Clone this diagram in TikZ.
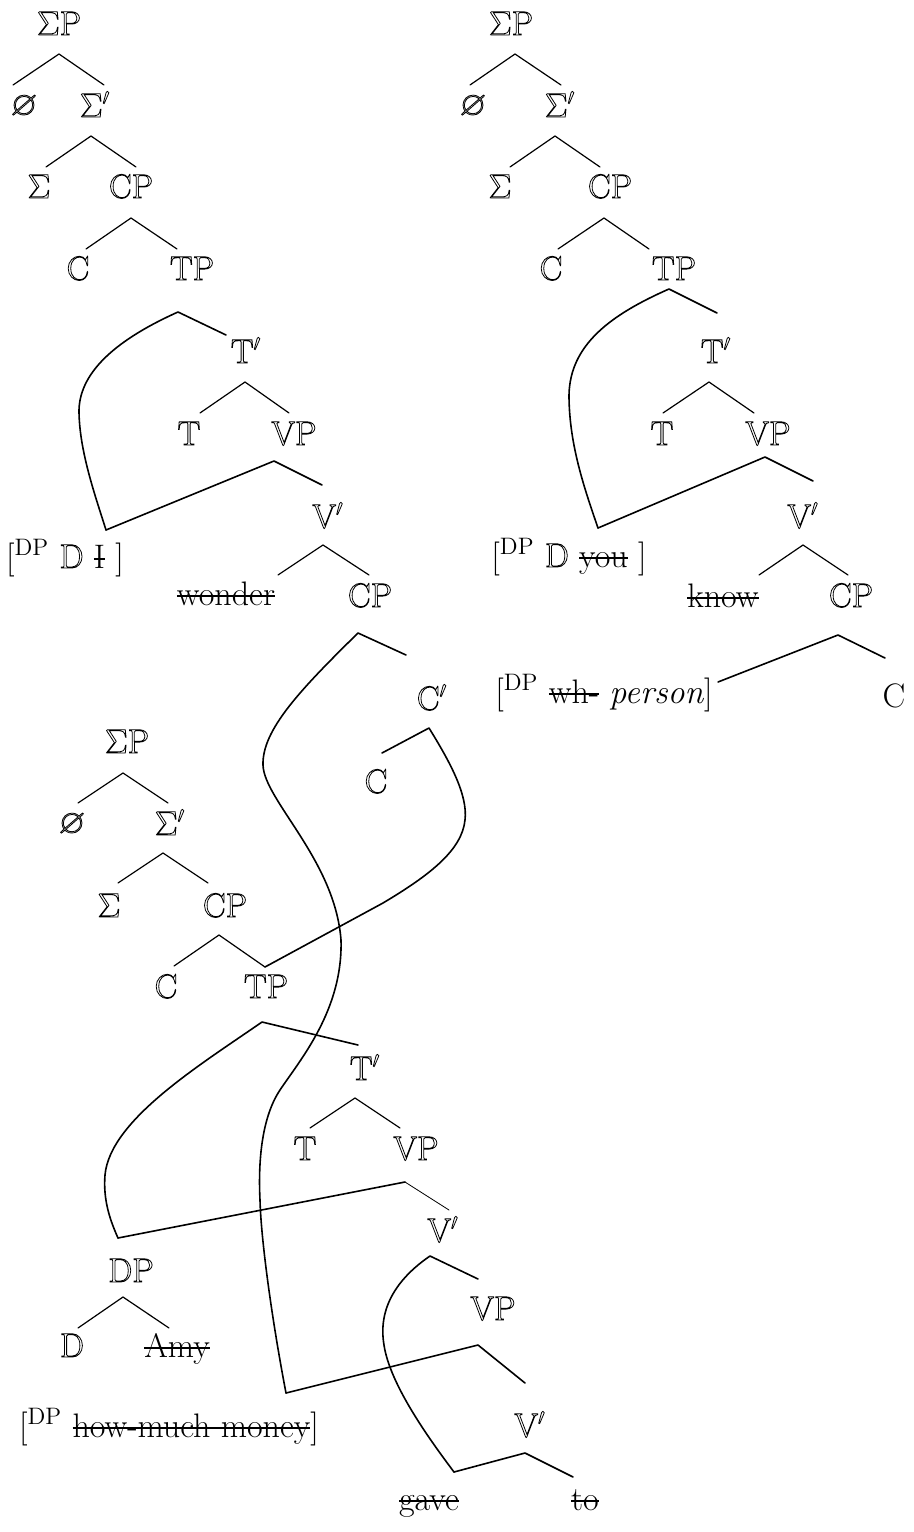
\RequirePackage{fix-cm}
\documentclass[tikz,border=0pt]{standalone}
\usepackage{amssymb}
\newsavebox\strkbox
\newcommand\strk[1]{\sbox\strkbox{#1}\rlap{\usebox\strkbox}\rule[0.24em]{\wd\strkbox}{0.9pt}}
\newcommand\olt[1]{\special{pdf:literal direct 1 Tr}#1\special{pdf:literal direct 0 Tr}}
\tikzset{
  lab/.style={anchor=base, inner sep=0pt, font=\fontsize{17}{20}\selectfont},
  br/.style={line width=0.6pt, line cap=round},
  mv/.style={line width=0.8pt, line cap=round, line join=round},
}
\begin{document}
\begin{tikzpicture}[x=0.5pt,y=-0.5pt]
\useasboundingbox (0,0) rectangle (914,1532);
% ---------------- tree 1 ----------------
\node[lab] (SP1) at (59,35) {\olt{$\Sigma$P}};
\node[lab] (O1) at (24,115) {\olt{$\varnothing$}};
\node[lab] (Sb1) at (95,117) {\olt{$\Sigma'$}};
\node[lab] (S1) at (39,198) {\olt{$\Sigma$}};
\node[lab] (CP1) at (131,198) {\olt{CP}};
\node[lab] (C1) at (78,280) {\olt{C}};
\node[lab] (TP1) at (192,280) {\olt{TP}};
\node[lab] (Tb1) at (246,363) {\olt{T$'$}};
\node[lab] (T1) at (189,445) {\olt{T}};
\node[lab] (VP1) at (294,445) {\olt{VP}};
\node[lab] (Vb1) at (328,528) {\olt{V$'$}};
\node[lab] (DP1) at (65,568) {[\textsuperscript{DP} \olt{D} \strk{I} ]};
\node[lab] (W1) at (226,605) {\strk{wonder}};
\node[lab] (CP1b) at (370,607) {\olt{CP}};
\coordinate (t1a1) at (59,54);  \coordinate (t1a1l) at (13,85);  \coordinate (t1a1r) at (104,85);
\coordinate (t1a2) at (91,136); \coordinate (t1a2l) at (46,167); \coordinate (t1a2r) at (136,167);
\coordinate (t1a3) at (131,218);\coordinate (t1a3l) at (86,249); \coordinate (t1a3r) at (177,249);
\coordinate (t1a4) at (178,312);\coordinate (t1a4r) at (226,335);\coordinate (t1s) at (106,530);
\coordinate (t1a5) at (245,382);\coordinate (t1a5l) at (200,413);\coordinate (t1a5r) at (289,413);
\coordinate (t1a6) at (274,461);\coordinate (t1a6r) at (322,485);
\coordinate (t1a7) at (323,545);\coordinate (t1a7l) at (278,575);\coordinate (t1a7r) at (369,575);
\draw[br] (t1a1l) -- (t1a1) -- (t1a1r);
\draw[br] (t1a2l) -- (t1a2) -- (t1a2r);
\draw[br] (t1a3l) -- (t1a3) -- (t1a3r);
\draw[mv] (t1a4r) -- (t1a4) .. controls (120,338) and (80,370) .. (79,410) .. controls (79,450) and (95,495) .. (t1s);
\draw[br] (t1a5l) -- (t1a5) -- (t1a5r);
\draw[mv] (t1s) -- (t1a6) -- (t1a6r);
\draw[br] (t1a7l) -- (t1a7) -- (t1a7r);
% ---------------- tree 2 ----------------
\node[lab] (SP2) at (511,35) {\olt{$\Sigma$P}};
\node[lab] (O2) at (473,115) {\olt{$\varnothing$}};
\node[lab] (Sb2) at (560,117) {\olt{$\Sigma'$}};
\node[lab] (S2) at (500,198) {\olt{$\Sigma$}};
\node[lab] (CP2) at (610,198) {\olt{CP}};
\node[lab] (C2) at (551,280) {\olt{C}};
\node[lab] (TP2) at (674,280) {\olt{TP}};
\node[lab] (Tb2) at (716,363) {\olt{T$'$}};
\node[lab] (T2) at (662,445) {\olt{T}};
\node[lab] (VP2) at (768,445) {\olt{VP}};
\node[lab] (Vb2) at (803,528) {\olt{V$'$}};
\node[lab] (DP2) at (569,567) {[\textsuperscript{DP} \olt{D} \strk{you} ]};
\node[lab] (K2) at (723,607) {\strk{know}};
\node[lab] (CP2b) at (851,607) {\olt{CP}};
\node[lab] (WH2) at (604,703) {[\textsuperscript{DP} \strk{wh-} \textit{person}]};
\node[lab] (Cx2) at (894,707) {C};
\coordinate (t2a1) at (515,54); \coordinate (t2a1l) at (470,85); \coordinate (t2a1r) at (561,85);
\coordinate (t2a2) at (555,136);\coordinate (t2a2l) at (510,167);\coordinate (t2a2r) at (600,167);
\coordinate (t2a3) at (604,218);\coordinate (t2a3l) at (558,249);\coordinate (t2a3r) at (649,249);
\coordinate (t2a4) at (669,289);\coordinate (t2a4r) at (717,313);\coordinate (t2s) at (598,528);
\coordinate (t2a5) at (709,382);\coordinate (t2a5l) at (663,413);\coordinate (t2a5r) at (754,413);
\coordinate (t2a6) at (765,457);\coordinate (t2a6r) at (813,481);
\coordinate (t2a7) at (803,545);\coordinate (t2a7l) at (759,575);\coordinate (t2a7r) at (848,575);
\coordinate (t2a8) at (838,635);\coordinate (t2a8l) at (718,682);\coordinate (t2a8r) at (885,658);
\draw[br] (t2a1l) -- (t2a1) -- (t2a1r);
\draw[br] (t2a2l) -- (t2a2) -- (t2a2r);
\draw[br] (t2a3l) -- (t2a3) -- (t2a3r);
\draw[mv] (t2a4r) -- (t2a4) .. controls (610,315) and (570,345) .. (569,395) .. controls (569,445) and (585,490) .. (t2s);
\draw[br] (t2a5l) -- (t2a5) -- (t2a5r);
\draw[mv] (t2s) -- (t2a6) -- (t2a6r);
\draw[br] (t2a7l) -- (t2a7) -- (t2a7r);
\draw[mv] (t2a8l) -- (t2a8) -- (t2a8r);
% ---------------- tree 3 ----------------
\node[lab] (Cb3) at (432,710) {\olt{C$'$}};
\node[lab] (Ch3) at (376,793) {\olt{C}};
\node[lab] (SP3) at (127,753) {\olt{$\Sigma$P}};
\node[lab] (O3) at (72,833) {\olt{$\varnothing$}};
\node[lab] (Sb3) at (170,835) {\olt{$\Sigma'$}};
\node[lab] (S3) at (109,917) {\olt{$\Sigma$}};
\node[lab] (CP3) at (225,917) {\olt{CP}};
\node[lab] (C3) at (166,998) {\olt{C}};
\node[lab] (TP3) at (266,998) {\olt{TP}};
\node[lab] (Tb3) at (365,1080) {\olt{T$'$}};
\node[lab] (T3) at (305,1160) {\olt{T}};
\node[lab] (VP3) at (416,1160) {\olt{VP}};
\node[lab] (Vb3) at (443,1242) {\olt{V$'$}};
\node[lab] (DP3) at (131,1282) {\olt{DP}};
\node[lab] (D3) at (72,1357) {\olt{D}};
\node[lab] (Amy) at (177,1357) {\strk{Amy}};
\node[lab] (VP3b) at (493,1320) {\olt{VP}};
\node[lab] (Vb3b) at (530,1437) {\olt{V$'$}};
\node[lab] (HM) at (169,1437) {[\textsuperscript{DP} \strk{how-much money}]};
\node[lab] (gave) at (429,1510) {\strk{gave}};
\node[lab] (to) at (585,1510) {\strk{to}};
\coordinate (t3c) at (358,633);  \coordinate (t3cr) at (406,655); \coordinate (t3w) at (286,1393);
\coordinate (t3cb) at (429,728); \coordinate (t3cbl) at (382,753);\coordinate (t3tp) at (265,967);
\coordinate (t3a1) at (123,773); \coordinate (t3a1l) at (78,803); \coordinate (t3a1r) at (168,803);
\coordinate (t3a2) at (163,853); \coordinate (t3a2l) at (118,883);\coordinate (t3a2r) at (208,883);
\coordinate (t3a3) at (219,935); \coordinate (t3a3l) at (174,966);
\coordinate (t3a4) at (262,1022);\coordinate (t3a4r) at (358,1045);\coordinate (t3d) at (118,1238);
\coordinate (t3a5) at (355,1098);\coordinate (t3a5l) at (310,1128);\coordinate (t3a5r) at (400,1128);
\coordinate (t3a6) at (405,1182);\coordinate (t3a6r) at (449,1210);
\coordinate (t3a7) at (430,1256);\coordinate (t3a7r) at (478,1279);\coordinate (t3g) at (454,1472);
\coordinate (t3a8) at (478,1345);\coordinate (t3a8r) at (525,1383);
\coordinate (t3a9) at (525,1453);\coordinate (t3a9r) at (573,1477);
\coordinate (t3a10) at (123,1297);\coordinate (t3a10l) at (78,1328);\coordinate (t3a10r) at (169,1328);
\draw[mv] (t3cr) -- (t3c) .. controls (300,690) and (262,730) .. (263,765)
  .. controls (264,800) and (335,860) .. (341,940)
  .. controls (343,1010) and (300,1060) .. (280,1090)
  .. controls (262,1117) and (258,1160) .. (260,1200)
  .. controls (261,1240) and (272,1320) .. (t3w);
\draw[mv] (t3cbl) -- (t3cb) .. controls (450,762) and (468,795) .. (465,820)
  .. controls (462,850) and (430,875) .. (383,903) -- (t3tp);
\draw[br] (t3a1l) -- (t3a1) -- (t3a1r);
\draw[br] (t3a2l) -- (t3a2) -- (t3a2r);
\draw[br] (t3a3l) -- (t3a3) -- (t3tp);
\draw[mv] (t3a4r) -- (t3a4) .. controls (200,1065) and (110,1120) .. (105,1175) .. controls (103,1200) and (110,1220) .. (t3d);
\draw[br] (t3a5l) -- (t3a5) -- (t3a5r);
\draw[mv] (t3d) -- (t3a6);
\draw[br, line width=0.4pt] (t3a6) -- (t3a6r);
\draw[mv] (t3a7r) -- (t3a7) .. controls (395,1280) and (378,1310) .. (384,1345) .. controls (390,1385) and (430,1440) .. (t3g);
\draw[mv] (t3w) -- (t3a8) -- (t3a8r);
\draw[mv] (t3g) -- (t3a9) -- (t3a9r);
\draw[br] (t3a10l) -- (t3a10) -- (t3a10r);
\end{tikzpicture}
\end{document}
